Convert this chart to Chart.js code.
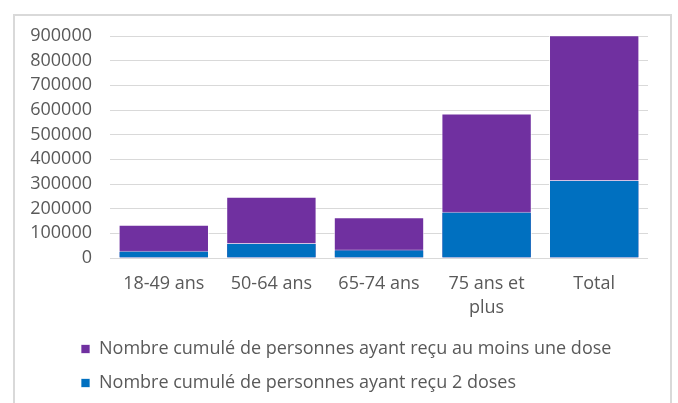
<!DOCTYPE html>
<html>
<head>
<meta charset="utf-8">
<script src="https://cdn.jsdelivr.net/npm/chart.js@4"></script>
<style>
  body { margin: 0; background: #fff; }
  .frame { position: absolute; left: 13px; top: 14px; width: 659px; height: 400px; border: 2px solid #d9d9d9; box-sizing: border-box; }
  .wrap { position: absolute; left: 0; top: 0; width: 678px; height: 403px; }
</style>
</head>
<body>
<div class="frame"></div>
<div class="wrap"><canvas id="my-chart"></canvas></div>
<script>
const categories = ["18-49 ans", "50-64 ans", "65-74 ans", ["75 ans et", "plus"], "Total"];
const auMoinsUneDose = [135000, 248000, 165000, 586000, 903000];
const deuxDoses = [29000, 61000, 34000, 188000, 316000];
const yTicks = [0, 100000, 200000, 300000, 400000, 500000, 600000, 700000, 800000, 900000];

const textColor = "#595959";
const fontFamily = "'Open Sans'";

// legend starts further right than the y axis box
const legendShift = {
  id: "legendShift",
  afterLayout(chart) {
    chart.legend.left += 36;
  }
};

const canvas = document.getElementById("my-chart");
const chart = new Chart(canvas, {
  type: "bar",
  data: {
    labels: categories,
    datasets: [
      {
        label: "Nombre cumulé de personnes ayant reçu au moins une dose",
        data: auMoinsUneDose,
        backgroundColor: "#7030A0",
        borderColor: "rgba(255,255,255,0.7)",
        borderWidth: 1,
        order: 2,
        barPercentage: 0.84,
        categoryPercentage: 1
      },
      {
        label: "Nombre cumulé de personnes ayant reçu 2 doses",
        data: deuxDoses,
        backgroundColor: "#0070C0",
        borderColor: "rgba(255,255,255,0.7)",
        borderWidth: 1,
        order: 1,
        barPercentage: 0.84,
        categoryPercentage: 1
      }
    ]
  },
  options: {
    responsive: true,
    maintainAspectRatio: false,
    animation: false,
    layout: { padding: { left: 29, right: 30, top: 36, bottom: 1 } },
    scales: {
      x: {
        stacked: true,
        grid: { display: false },
        border: { display: false },
        ticks: {
          color: textColor,
          font: { family: fontFamily, size: 18, lineHeight: 1.33 },
          padding: 6,
          maxRotation: 0
        },
        afterFit(scale) { scale.height = 66; }
      },
      y: {
        stacked: false,
        min: 0,
        max: 900000,
        afterBuildTicks(scale) { scale.ticks = yTicks.map(v => ({ value: v })); },
        grid: { color: "#d9d9d9", lineWidth: 1, drawTicks: false },
        border: { display: false },
        ticks: {
          color: textColor,
          font: { family: fontFamily, size: 18 },
          padding: 18,
          callback: (v) => String(v)
        },
        afterFit(scale) { scale.width = 81; }
      }
    },
    plugins: {
      legend: {
        position: "bottom",
        align: "start",
        labels: {
          color: textColor,
          font: { family: fontFamily, size: 18 },
          boxWidth: 9,
          boxHeight: 9,
          padding: 16,
          sort: (a, b) => a.datasetIndex - b.datasetIndex
        }
      },
      tooltip: { enabled: false }
    }
  },
  plugins: [legendShift]
});
</script>
</body>
</html>
